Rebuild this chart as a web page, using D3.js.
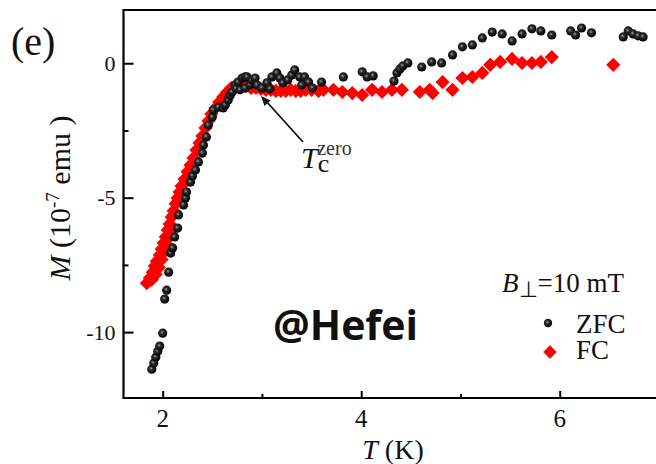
<!DOCTYPE html>
<html>
<head>
<meta charset="utf-8">
<script src="https://cdn.jsdelivr.net/npm/d3@7"></script>
<style>
html,body{margin:0;padding:0;background:#fff;}
svg{display:block;}
text{font-family:"Liberation Serif","Times New Roman",serif;fill:#111;}
</style>
</head>
<body>
<svg id="chart" width="656" height="464"></svg>
<script>
// ZFC data: [T (K), M (1e-7 emu)]
const zfcT = [1.89,1.91,1.93,1.95,1.97,2.00,2.02,2.04,2.06,2.08,2.10,2.12,2.15,2.16,2.21,2.23,2.24,2.28,2.30,2.33,2.36,2.40,2.41,2.44,2.46,2.50,2.51,2.56,2.61,2.63,2.66,2.68,2.70,2.73,2.74,2.76,2.78,2.80,2.83,2.83,2.85,2.88,2.90,2.93,2.95,3.00,3.05,3.08,3.10,3.15,3.18,3.21,3.26,3.30,3.33,3.38,3.40,3.43,3.47,3.51,3.60,3.82,4.01,4.06,4.12,4.33,4.36,4.39,4.42,4.47,4.61,4.71,4.81,4.92,5.02,5.12,5.22,5.32,5.42,5.52,5.62,5.72,5.81,5.92,6.11,6.16,6.22,6.32,6.64,6.69,6.74,6.79,6.84];
const zfcM = [-11.38,-11.15,-10.93,-10.71,-10.52,-10.04,-8.77,-8.44,-7.77,-7.06,-6.87,-6.46,-6.13,-5.64,-5.27,-5.01,-4.79,-4.42,-4.19,-3.97,-3.67,-3.34,-3.04,-2.74,-2.30,-2.00,-1.74,-1.63,-1.66,-1.55,-1.37,-1.20,-1.07,-0.81,-0.95,-0.70,-0.99,-0.55,-0.51,-0.92,-0.51,-0.80,-0.62,-0.55,-0.81,-0.92,-0.73,-0.95,-0.51,-0.36,-0.55,-0.73,-0.62,-0.44,-0.25,-0.51,-0.81,-0.51,-0.70,-0.92,-0.70,-0.51,-0.32,-0.51,-0.47,-0.66,-0.36,-0.21,-0.10,0.01,-0.14,0.05,0.01,0.31,0.61,0.68,0.94,1.16,1.09,0.83,1.09,1.28,1.20,1.05,1.20,1.05,1.31,1.13,0.98,1.20,1.09,1.02,0.98];

// FC data
const fcT = [1.84,1.87,1.90,1.92,1.94,1.97,1.99,2.01,2.03,2.05,2.07,2.09,2.11,2.13,2.15,2.17,2.19,2.22,2.25,2.28,2.31,2.34,2.37,2.40,2.43,2.46,2.49,2.53,2.57,2.61,2.65,2.69,2.74,2.79,2.84,2.89,2.94,2.99,3.04,3.09,3.14,3.19,3.24,3.29,3.34,3.39,3.44,3.50,3.57,3.62,3.72,3.81,3.91,4.01,4.11,4.21,4.31,4.41,4.59,4.69,4.72,4.82,4.92,5.02,5.12,5.22,5.30,5.40,5.52,5.62,5.72,5.81,5.92,6.54,
  1.89,1.93,1.96,1.99,2.02,2.04,2.06,2.08];
const fcM = [-8.18,-7.99,-7.77,-7.54,-7.36,-7.13,-6.91,-6.69,-6.46,-6.20,-5.98,-5.72,-5.49,-5.23,-5.01,-4.79,-4.57,-4.31,-4.04,-3.79,-3.52,-3.23,-2.97,-2.71,-2.41,-2.15,-1.89,-1.67,-1.44,-1.25,-1.07,-0.92,-0.81,-0.77,-0.85,-0.92,-0.92,-0.96,-0.99,-0.99,-1.03,-1.03,-1.03,-0.99,-1.03,-1.03,-0.99,-0.99,-1.03,-0.99,-0.99,-1.07,-1.11,-1.18,-0.99,-1.07,-0.99,-0.99,-1.07,-0.99,-1.11,-0.70,-0.99,-0.55,-0.51,-0.36,-0.06,0.05,0.16,0.01,0.01,0.05,0.23,-0.06,
  -8.05,-7.85,-7.60,-7.30,-7.00,-6.75,-6.50,-6.25];

const xMajorTicks = [2, 4, 6];
const xMinorTicks = [3, 5];
const yMajorTicks = [0, -5, -10];
const yMinorTicks = [-2.5, -7.5];
const legendLabels = ["ZFC", "FC"];

const svg = d3.select("#chart");
const L = 123.5, R = 656, T = 10, B = 398;
const x = d3.scaleLinear().domain([1.605, 6.97]).range([L, R]);
const y = d3.scaleLinear().domain([-12.45, 1.98]).range([B, T]);

const defs = svg.append("defs");
const g = defs.append("radialGradient").attr("id","ball").attr("cx","42%").attr("cy","40%").attr("r","60%");
g.append("stop").attr("offset","0%").attr("stop-color","#9a9a9a");
g.append("stop").attr("offset","35%").attr("stop-color","#2a2a2a");
g.append("stop").attr("offset","100%").attr("stop-color","#000");

const frame = svg.append("g").attr("stroke","#000").attr("stroke-width",2.2).attr("fill","none");
frame.append("path").attr("d",`M${R+2},${T}H${L}V${B}H${R+2}`);

const yAxisMajor = d3.axisRight(y).tickValues(yMajorTicks).tickSize(10).tickFormat("");
const yAxisMinor = d3.axisRight(y).tickValues(yMinorTicks).tickSize(5).tickFormat("");
const xAxisMajor = d3.axisTop(x).tickValues(xMajorTicks).tickSize(7).tickFormat("");
const xAxisMinor = d3.axisTop(x).tickValues(xMinorTicks).tickSize(4).tickFormat("");
[[yAxisMajor,`translate(${L},0)`],[yAxisMinor,`translate(${L},0)`],[xAxisMajor,`translate(0,${B})`],[xAxisMinor,`translate(0,${B})`]].forEach(([ax,tr])=>{
  const gg = svg.append("g").attr("transform",tr).call(ax);
  gg.select(".domain").remove();
  gg.selectAll("line").attr("stroke","#000").attr("stroke-width",2);
});

svg.append("g").selectAll("text").data(yMajorTicks).join("text")
  .attr("x", L-8).attr("y", d=>y(d)+7.5).attr("text-anchor","end")
  .style("font-size","22px").text(d=>d);
svg.append("g").selectAll("text").data(xMajorTicks).join("text")
  .attr("x", d=>x(d)).attr("y", 427).attr("text-anchor","middle")
  .style("font-size","25px").text(d=>d);

svg.append("text").attr("x",393).attr("y",459).attr("text-anchor","middle").style("font-size","28px")
  .html('<tspan font-style="italic">T</tspan> (K)');
const yl = svg.append("text").attr("transform","translate(70,198) rotate(-90)").attr("text-anchor","middle").style("font-size","30px");
yl.append("tspan").attr("font-style","italic").text("M");
yl.append("tspan").text(" (10");
yl.append("tspan").attr("dy",-11).style("font-size","19px").text("-7");
yl.append("tspan").attr("dy",11).text(" emu )");

svg.append("text").attr("x",11).attr("y",55).style("font-size","40px").text("(e)");

const diamond = d3.symbol().type(d3.symbolSquare).size(100);
svg.append("g").selectAll("path").data(fcT.map((t,i)=>[t,fcM[i]])).join("path")
  .attr("d", diamond)
  .attr("transform", d=>`translate(${x(d[0])},${y(d[1])}) rotate(45)`)
  .attr("fill","#ff0000");

svg.append("g").selectAll("circle").data(zfcT.map((t,i)=>[t,zfcM[i]])).join("circle")
  .attr("cx", d=>x(d[0])).attr("cy", d=>y(d[1])).attr("r",4.6)
  .attr("fill","url(#ball)");

svg.append("line").attr("x1",303).attr("y1",142).attr("x2",266).attr("y2",101)
  .attr("stroke","#111").attr("stroke-width",1.8);
svg.append("path").attr("d","M261,96 L264.5,106 L270.5,100.5 Z").attr("fill","#111");
const tc = svg.append("text").attr("x",301).attr("y",168).style("font-size","30px");
tc.append("tspan").attr("font-style","italic").text("T");
tc.append("tspan").attr("dy",4).style("font-size","26px").text("c");
tc.append("tspan").attr("dx",-12).attr("dy",-17).style("font-size","20px").attr("fill","#333").text("zero");

svg.append("text").attr("x",273).attr("y",340)
  .style("font-family","'Open Sans',sans-serif").style("font-weight","bold").style("font-size","41px")
  .attr("fill","#000").text("@Hefei");

const lg = svg.append("text").attr("x",502).attr("y",292).style("font-size","27px");
lg.append("tspan").attr("font-style","italic").text("B");
lg.append("tspan").attr("dy",5).style("font-size","22px").text("⊥");
lg.append("tspan").attr("dy",-5).text("=10 mT");
svg.append("circle").attr("cx",548).attr("cy",323).attr("r",4.2).attr("fill","url(#ball)");
svg.append("path").attr("d",d3.symbol().type(d3.symbolSquare).size(90)).attr("transform","translate(550,352) rotate(45)").attr("fill","#ff0000");
svg.append("g").selectAll("text").data(legendLabels).join("text")
  .attr("x",576).attr("y",(d,i)=>333+i*26).style("font-size","27px").text(d=>d);
</script>
</body>
</html>
